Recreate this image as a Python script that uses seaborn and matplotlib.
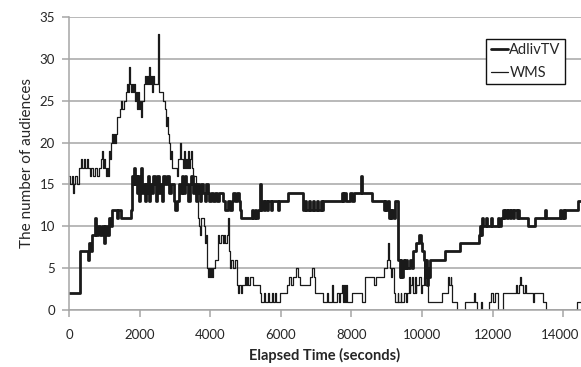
import matplotlib
matplotlib.use("Agg")
import matplotlib.pyplot as plt
import matplotlib.transforms as mtransforms
import seaborn as sns
import pandas as pd

# Audience counts per stream: (elapsed seconds, viewers) change points; each value holds
# until the next change.
adliv_steps = [
    (0, 2), (310, 7), (540, 6), (565, 8), (620, 7), (650, 9), (735, 11), (765, 9), (820, 10),
    (875, 9), (935, 10), (990, 8), (1020, 10), (1075, 9), (1130, 11), (1190, 10), (1215, 12),
    (1355, 11), (1385, 12), (1470, 11), (1755, 12), (1780, 16), (1810, 15), (1840, 17),
    (1865, 15), (1895, 16), (1925, 14), (1950, 16), (1980, 13), (2010, 15), (2035, 17),
    (2065, 14), (2095, 15), (2150, 13), (2180, 15), (2205, 14), (2235, 16), (2260, 13),
    (2290, 15), (2345, 14), (2375, 16), (2430, 15), (2460, 13), (2490, 16), (2545, 14),
    (2575, 15), (2630, 13), (2660, 16), (2715, 15), (2770, 16), (2830, 14), (2885, 15),
    (2970, 13), (3000, 12), (3055, 13), (3110, 15), (3140, 14), (3195, 16), (3225, 14),
    (3280, 16), (3310, 15), (3365, 13), (3420, 15), (3450, 16), (3505, 14), (3535, 15),
    (3590, 13), (3620, 15), (3675, 14), (3705, 13), (3735, 15), (3790, 14), (3845, 13),
    (3875, 15), (3930, 14), (3960, 13), (4015, 14), (4070, 13), (4130, 14), (4185, 13),
    (4240, 14), (4355, 13), (4410, 12), (4495, 13), (4555, 12), (4610, 13), (4640, 14),
    (4695, 13), (4750, 14), (4810, 13), (4835, 12), (4865, 11), (5175, 12), (5205, 11),
    (5260, 12), (5290, 11), (5345, 12), (5400, 15), (5430, 12), (5460, 13), (5515, 12),
    (5545, 13), (5600, 12), (5630, 13), (5715, 12), (5740, 13), (5910, 12), (5940, 13),
    (6195, 14), (6615, 12), (6675, 13), (6700, 12), (6785, 13), (6815, 12), (6900, 13),
    (6930, 12), (7015, 13), (7040, 12), (7125, 13), (7155, 12), (7185, 13), (7720, 14),
    (7750, 13), (7775, 14), (7835, 13), (7945, 14), (8005, 13), (8060, 14), (8260, 16),
    (8285, 14), (8570, 13), (8910, 12), (8935, 13), (8965, 12), (9020, 13), (9050, 11),
    (9080, 12), (9105, 11), (9135, 12), (9190, 11), (9220, 13), (9305, 8), (9330, 6),
    (9360, 4), (9390, 6), (9415, 4), (9445, 5), (9475, 6), (9500, 5), (9530, 6), (9560, 5),
    (9645, 6), (9700, 5), (9730, 7), (9815, 8), (9900, 9), (9955, 8), (10010, 7), (10040, 6),
    (10070, 4), (10095, 6), (10125, 3), (10155, 5), (10180, 4), (10210, 6), (10660, 7),
    (11085, 8), (11625, 9), (11650, 10), (11680, 9), (11710, 11), (11735, 10), (11820, 11),
    (11850, 10), (11960, 11), (11990, 10), (12160, 11), (12190, 10), (12245, 11), (12300, 12),
    (12330, 11), (12360, 12), (12415, 11), (12445, 12), (12500, 11), (12530, 12), (12585, 11),
    (12615, 12), (12700, 11), (12725, 12), (12755, 11), (13010, 10), (13205, 11), (13490, 12),
    (13520, 11), (13915, 12), (13940, 11), (14000, 12), (14025, 11), (14055, 12), (14425, 13),
    (14500, 13),
]

wms_steps = [
    (0, 16), (30, 15), (85, 16), (115, 14), (140, 15), (170, 16), (225, 15), (285, 17),
    (340, 18), (370, 17), (425, 18), (450, 17), (510, 18), (535, 17), (595, 16), (620, 17),
    (680, 16), (735, 17), (790, 16), (850, 17), (905, 18), (935, 19), (960, 17), (990, 18),
    (1020, 17), (1045, 16), (1075, 17), (1105, 16), (1130, 19), (1160, 18), (1190, 20),
    (1215, 21), (1245, 20), (1275, 21), (1300, 20), (1330, 21), (1355, 23), (1440, 24),
    (1470, 25), (1500, 24), (1555, 25), (1610, 26), (1640, 27), (1670, 26), (1695, 29),
    (1725, 27), (1755, 26), (1780, 27), (1810, 26), (1840, 27), (1865, 25), (1895, 26),
    (1925, 24), (1950, 26), (1980, 24), (2010, 25), (2035, 23), (2065, 25), (2120, 27),
    (2150, 28), (2180, 27), (2205, 28), (2235, 27), (2260, 29), (2290, 27), (2320, 28),
    (2345, 26), (2375, 28), (2405, 27), (2515, 33), (2545, 26), (2660, 25), (2715, 24),
    (2745, 22), (2770, 23), (2800, 21), (2830, 20), (2855, 18), (2885, 19), (2915, 17),
    (3055, 16), (3080, 18), (3140, 20), (3165, 18), (3225, 17), (3250, 19), (3280, 17),
    (3310, 18), (3335, 17), (3365, 19), (3395, 17), (3420, 18), (3450, 19), (3480, 17),
    (3505, 16), (3590, 14), (3620, 13), (3650, 11), (3675, 10), (3705, 9), (3735, 11),
    (3820, 10), (3845, 8), (3875, 9), (3905, 5), (3930, 4), (3960, 5), (3985, 4), (4015, 5),
    (4045, 4), (4070, 5), (4130, 6), (4215, 9), (4240, 8), (4300, 9), (4355, 8), (4385, 9),
    (4410, 8), (4470, 9), (4495, 11), (4525, 7), (4555, 5), (4580, 6), (4640, 5), (4695, 6),
    (4750, 3), (4780, 2), (4810, 3), (4865, 2), (4895, 3), (4975, 4), (5005, 3), (5035, 4),
    (5060, 3), (5120, 4), (5205, 3), (5400, 2), (5430, 1), (5515, 2), (5545, 1), (5630, 2),
    (5655, 1), (5740, 2), (5770, 1), (5825, 2), (5855, 1), (5965, 2), (6165, 3), (6220, 4),
    (6280, 3), (6335, 4), (6420, 5), (6475, 4), (6535, 3), (6815, 4), (6870, 5), (6930, 4),
    (6955, 2), (7185, 1), (7295, 2), (7325, 1), (7435, 3), (7465, 1), (7580, 2), (7635, 1),
    (7665, 2), (7720, 3), (7750, 1), (7775, 3), (7805, 1), (7835, 3), (7860, 1), (8005, 2),
    (8285, 1), (8370, 4), (8625, 3), (8680, 4), (8910, 5), (8995, 6), (9020, 8), (9050, 6),
    (9080, 5), (9105, 4), (9135, 5), (9190, 2), (9245, 1), (9305, 2), (9330, 1), (9390, 2),
    (9415, 1), (9475, 2), (9530, 1), (9585, 2), (9615, 4), (9645, 2), (9670, 3), (9700, 4),
    (9730, 2), (9785, 4), (9815, 2), (9840, 3), (9925, 4), (9955, 2), (10010, 3), (10040, 4),
    (10095, 3), (10155, 1), (10575, 2), (10720, 3), (10745, 4), (10775, 3), (10805, 4),
    (10830, 3), (10860, 1), (11000, 0), (11225, 1), (11480, 2), (11510, 1), (11565, 0),
    (11680, 1), (11710, 0), (11905, 1), (11960, 2), (12020, 1), (12075, 2), (12160, 0),
    (12300, 2), (12670, 3), (12700, 2), (12755, 3), (12785, 4), (12810, 3), (12870, 2),
    (12925, 3), (12955, 2), (13150, 1), (13180, 2), (13435, 1), (13520, 0), (14395, 1),
    (14500, 1),
]

series_names = ["AdlivTV", "WMS"]
x_ticks = [0, 2000, 4000, 6000, 8000, 10000, 12000, 14000]
y_ticks = [0, 5, 10, 15, 20, 25, 30, 35]

sns.set_theme(style="white")
plt.rcParams["font.family"] = ["Lato", "DejaVu Sans"]

grid_color = "#a6a6a6"
line_color = "#1a1a1a"
text_color = "#262626"

fig = plt.figure(figsize=(5.81, 3.67), dpi=100)
ax = fig.add_axes([0.1188, 0.1553, 0.8812, 0.7984])

frames = {name: pd.DataFrame(steps, columns=["t", "n"])
          for name, steps in zip(series_names, [adliv_steps, wms_steps])}

sns.lineplot(data=frames["AdlivTV"], x="t", y="n", ax=ax, estimator=None,
             drawstyle="steps-post", color=line_color, linewidth=2.0, label="AdlivTV")
sns.lineplot(data=frames["WMS"], x="t", y="n", ax=ax, estimator=None,
             drawstyle="steps-post", color=line_color, linewidth=0.9, label="WMS")

ax.set_xlim(0, 14500)
ax.set_ylim(0, 35)
ax.set_xticks(x_ticks)
ax.set_yticks(y_ticks)
ax.yaxis.grid(True, color=grid_color, linewidth=1.1)
ax.set_axisbelow(True)
for side in ("top", "right"):
    ax.spines[side].set_visible(False)
for side in ("left", "bottom"):
    ax.spines[side].set_color(grid_color)
    ax.spines[side].set_linewidth(1.1)
ax.tick_params(axis="both", which="major", length=5, width=1.1, color=grid_color,
               labelsize=9.5, labelcolor=text_color, direction="out", left=True, bottom=True)
ax.tick_params(axis="x", pad=9)
ax.tick_params(axis="y", pad=5)

# keep the last x tick label inside the figure edge
last_label = ax.get_xticklabels()[-1]
last_label.set_transform(last_label.get_transform() +
                         mtransforms.ScaledTranslation(-3 / 100, 0, fig.dpi_scale_trans))

ax.set_xlabel("Elapsed Time (seconds)", fontsize=10.5, fontweight="bold", color=text_color,
              labelpad=5)
ax.set_ylabel("The number of audiences", fontsize=11, color=text_color, labelpad=4)

leg = ax.legend(loc="upper right", bbox_to_anchor=(0.969, 0.925), frameon=True, fancybox=False,
                edgecolor="#111111", framealpha=1, fontsize=10.5, handlelength=1.2,
                handletextpad=0.08, borderpad=0.3, labelspacing=0.6, borderaxespad=0)
leg.get_frame().set_linewidth(1.0)
for txt in leg.get_texts():
    txt.set_color(text_color)

fig.savefig("out.png", dpi=100)
